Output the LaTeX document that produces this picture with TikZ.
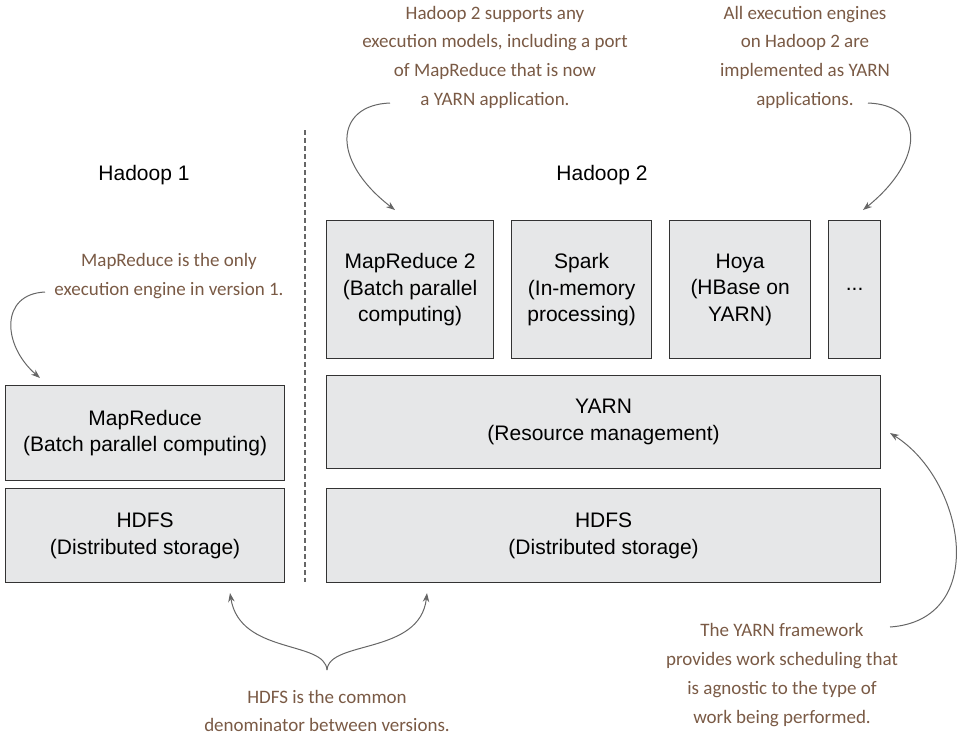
\documentclass[tikz,border=0pt]{standalone}
\usepackage{fontspec}
\setmainfont{Liberation Sans}
\newfontfamily\hand{Carlito}
\usetikzlibrary{arrows.meta,calc}
\definecolor{boxfill}{HTML}{E6E7E8}
\definecolor{boxdraw}{HTML}{333333}
\definecolor{notecol}{HTML}{7A5A45}
\definecolor{arrcol}{HTML}{666666}
\begin{document}
\begin{tikzpicture}[x=1pt,y=-1pt,
  box/.style={draw=boxdraw, fill=boxfill, line width=1.2pt, inner sep=0pt, align=center,
    font=\fontsize{21}{26.5}\selectfont, anchor=north west},
  note/.style={text=notecol, align=center, inner sep=0pt, font=\hand\fontsize{19}{28.7}\selectfont},
  arrow/.style={draw=arrcol, line width=1pt, -{Stealth[length=9pt,width=6.5pt]}},
  title/.style={font=\fontsize{21}{25}\selectfont}]
\useasboundingbox (0,0) rectangle (965,737);

% Hadoop 1
\node[title] (h1) at (144,175) {Hadoop 1};
\node[box, minimum width=279, minimum height=95] (mr1) at (5,385) {MapReduce\\(Batch parallel computing)};
\node[box, minimum width=279, minimum height=94] (hdfs1) at (5,488) {HDFS\\(Distributed storage)};

% separator
\coordinate (septop) at (305,130);
\coordinate (sepbot) at (305,582);
\draw[dash pattern=on 5pt off 3pt, draw=arrcol, line width=1.4pt] (septop) -- (sepbot);

% Hadoop 2
\node[title] (h2) at (602,175) {Hadoop 2};
\node[box, minimum width=167, minimum height=138] (mr2) at (326,220) {MapReduce 2\\(Batch parallel\\computing)};
\node[box, minimum width=140, minimum height=138] (spark) at (511,220) {Spark\\(In-memory\\processing)};
\node[box, minimum width=141, minimum height=138] (hoya) at (669,220) {Hoya\\(HBase on\\YARN)};
\node[box, minimum width=52, minimum height=138] (dots) at (828,220) {...};
\node[box, minimum width=554, minimum height=93] (yarn) at (326,375) {YARN\\(Resource management)};
\node[box, minimum width=554, minimum height=94] (hdfs2) at (326,488) {HDFS\\(Distributed storage)};

% notes
\node[note] (n1) at (169,276) {MapReduce is the only\\execution engine in version 1.};
\node[note] (n2) at (495,57) {Hadoop 2 supports any\\execution models, including a port\\of MapReduce that is now\\a YARN application.};
\node[note] (n3) at (805,57) {All execution engines\\on Hadoop 2 are\\implemented as YARN\\applications.};
\node[note] (n4) at (327,711) {HDFS is the common\\denominator between versions.};
\node[note] (n5) at (782,675) {The YARN framework\\provides work scheduling that\\is agnostic to the type of\\work being performed.};

% arrow coordinates
\coordinate (a1s) at (45,292);
\coordinate (a1e) at (40,378);
\coordinate (a2s) at (390,103);
\coordinate (a2e) at (395,210);
\coordinate (a3s) at (868,103);
\coordinate (a3e) at (863,210);
\coordinate (a4s) at (327,670);
\coordinate (a4l) at (230,593);
\coordinate (a4r) at (427,593);
\coordinate (a5s) at (890,627);
\coordinate (a5e) at (890,433);

\draw[arrow] (a1s) .. controls (0,294) and (2,345) .. (a1e);
\draw[arrow] (a2s) .. controls (335,105) and (330,160) .. (a2e);
\draw[arrow] (a3s) .. controls (925,105) and (925,160) .. (a3e);
\draw[arrow] (a4s) .. controls (325,640) and (240,655) .. (a4l);
\draw[arrow] (a4s) .. controls (329,640) and (420,655) .. (a4r);
\draw[arrow] (a5s) .. controls (990,620) and (965,480) .. (a5e);
\end{tikzpicture}
\end{document}
